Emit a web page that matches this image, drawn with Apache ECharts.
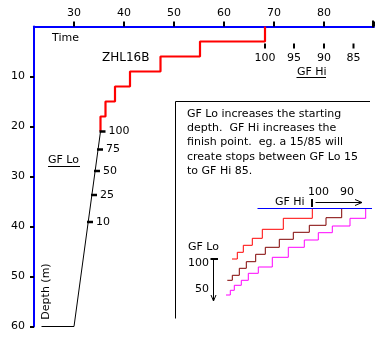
<!DOCTYPE html>
<html><head><meta charset="utf-8">
<script src="https://cdn.jsdelivr.net/npm/echarts@6/dist/echarts.min.js"></script>
<style>html,body{margin:0;padding:0;background:#fff}#c{width:391px;height:345px}</style>
</head><body><div id="c"></div>
<script>
// ---- axes ----
const timeTicks = [30, 40, 50, 60, 70, 80, 90];
const timeLabels = [30, 40, 50, 60, 70, 80];
const depthTicks = [10, 20, 30, 40, 50, 60];
// ---- ZHL16B ascent profile (time, depth) ----
const profileTime = [35.3, 36.3, 38.2, 41.2, 47.3, 55.2, 68.2, 68.2];
const profileDepth = [21, 18, 15, 12, 9, 6, 3, 0];
// ---- bottom + ascent to first stop ----
const descentTime = [23.5, 30, 35.3];
const descentDepth = [60, 60, 21];
// ---- GF Lo marks on the ascent line ----
const gfLoLabels = ['100', '75', '50', '25', '10'];
const gfLoTime = [35.3, 34.8, 34.2, 33.6, 32.8];
const gfLoDepth = [21, 24.6, 28.9, 33.7, 39.1];
// ---- GF Hi marks below the time axis ----
const gfHiLabels = ['100', '95', '90', '85'];
const gfHiTime = [68.2, 74, 80, 85.9];
const gfHiDepth = [3.9, 3.9, 3.9, 3.9];
// ---- inset schematic staircases (schematic units) ----
const insetRedX = [12, 17.3, 23.3, 32.3, 42.3, 63.3, 92.3];
const insetRedY = [50.5, 43.8, 36.8, 29.8, 20.8, 9.8, 0];
const insetMaroonX = [7.3, 12.3, 19.3, 26.3, 35.7, 45.3, 59.3, 73.3, 89.3, 106, 121.7];
const insetMaroonY = [71.8, 66.8, 59.8, 53.2, 45.8, 38.8, 30.8, 23.8, 16.8, 9.2, 0];
const insetMagentaX = [6, 10.3, 14.3, 21.3, 28.3, 38.3, 52.3, 68.3, 84.3, 98.3, 112.3, 130, 145.7];
const insetMagentaY = [86.5, 81.8, 76.8, 71.8, 64.8, 58.5, 48.8, 38.8, 31.5, 24.2, 17.5, 9.8, 0];

const FONT = '"DejaVu Sans"';
const zip = (a, b) => a.map((v, i) => [v, b[i]]);

function txt(text, x, y, opts) {
  opts = opts || {};
  return {
    type: 'text', x: x, y: y, rotation: opts.rotation || 0, z: 10,
    style: {
      text: text, fill: '#000', font: (opts.size || 11) + 'px ' + FONT,
      align: opts.align || 'left', verticalAlign: 'middle',
      textAlign: opts.align || 'left', textVerticalAlign: 'middle',
      lineHeight: opts.lineHeight
    }
  };
}
function ln(x1, y1, x2, y2, color, w) {
  return { type: 'line', z: 10, shape: { x1: x1, y1: y1, x2: x2, y2: y2 },
    style: { stroke: color || '#000', lineWidth: w || 1 } };
}
const markLabel = { show: true, formatter: '{b}', color: '#000', opacity: 1, textBorderWidth: 0,
  fontSize: 11, fontFamily: FONT };

const chart = echarts.init(document.getElementById('c'), null, { renderer: 'canvas' });
const graphics = [
  txt('Time', 52, 38),
  txt('ZHL16B', 102, 58, { size: 12 }),
  txt('GF Hi', 297, 72),
  ln(296.5, 77.5, 326, 77.5),
  txt('GF Lo', 48, 160),
  ln(48, 166.5, 80, 166.5),
  txt('Depth (m)', 46, 291.5, { rotation: Math.PI / 2, align: 'center' }),
  // inset box
  ln(175.5, 101.5, 370, 101.5),
  ln(175.5, 101.5, 175.5, 318.5),
  txt('GF Lo increases the starting\ndepth.  GF Hi increases the\nfinish point.  eg. a 15/85 will\ncreate stops between GF Lo 15\nto GF Hi 85.', 187, 142.6, { lineHeight: 14.3 }),
  // inset GF Hi arrow
  ln(257.5, 208.5, 372, 208.5, '#0000ff', 1),
  txt('GF Hi', 275, 202.5),
  txt('100', 308, 192.5),
  txt('90', 340, 192.5),
  ln(312, 199, 312, 207, '#000', 2),
  ln(315.5, 202.5, 362, 202.5),
  ln(355, 199.5, 362, 202.5),
  ln(355, 205.5, 362, 202.5),
  // inset GF Lo arrow
  txt('GF Lo', 188, 247),
  txt('100', 188, 263),
  txt('50', 195, 289.5),
  ln(210.5, 259, 218, 259, '#000', 2),
  ln(213.5, 259, 213.5, 301),
  ln(211, 295, 213.5, 301),
  ln(216, 295, 213.5, 301)
];
chart.setOption({
  animation: false,
  backgroundColor: '#fff',
  textStyle: { fontFamily: FONT },
  grid: [
    { left: 34, right: 17, top: 26.5, bottom: 18.5 },
    { left: 220, top: 208.5, width: 152, height: 92 }
  ],
  xAxis: [
    {
      type: 'value', gridIndex: 0, position: 'top', min: 22, max: 90,
      axisLine: { show: true, lineStyle: { color: '#0000ff', width: 2 } },
      axisTick: { show: true, customValues: timeTicks, length: 5, lineStyle: { color: '#000', width: 2 } },
      axisLabel: { customValues: timeLabels, color: '#000', fontSize: 11, fontFamily: FONT, margin: 8 },
      splitLine: { show: false }
    },
    { type: 'value', gridIndex: 1, min: 0, max: 152, show: false }
  ],
  yAxis: [
    {
      type: 'value', gridIndex: 0, inverse: true, min: 0, max: 60,
      axisLine: { show: true, lineStyle: { color: '#0000ff', width: 2 } },
      axisTick: { show: true, customValues: depthTicks, length: 4, lineStyle: { color: '#000', width: 2 } },
      axisLabel: { customValues: depthTicks, color: '#000', fontSize: 11, fontFamily: FONT, margin: 9 },
      splitLine: { show: false }
    },
    { type: 'value', gridIndex: 1, inverse: true, min: 0, max: 92, show: false }
  ],
  series: [
    {
      type: 'line', xAxisIndex: 0, yAxisIndex: 0, data: zip(descentTime, descentDepth),
      showSymbol: false, symbol: 'none', lineStyle: { color: '#000', width: 1 }
    },
    {
      type: 'line', xAxisIndex: 0, yAxisIndex: 0, data: zip(profileTime, profileDepth), step: 'start',
      showSymbol: false, symbol: 'none', lineStyle: { color: '#ff0000', width: 2.2 }, z: 3
    },
    {
      type: 'scatter', xAxisIndex: 0, yAxisIndex: 0,
      data: gfLoTime.map((t, i) => ({ name: gfLoLabels[i], value: [t, gfLoDepth[i]] })),
      symbol: 'rect', symbolSize: [6, 2.5], symbolOffset: [2, 0],
      itemStyle: { color: '#000', opacity: 1 },
      label: Object.assign({ position: 'right', distance: 3 }, markLabel),
      z: 4
    },
    {
      type: 'scatter', xAxisIndex: 0, yAxisIndex: 0,
      data: gfHiTime.map((t, i) => ({ name: gfHiLabels[i], value: [t, gfHiDepth[i]] })),
      symbol: 'rect', symbolSize: [2, 5],
      itemStyle: { color: '#000', opacity: 1 },
      label: Object.assign({ position: 'bottom', distance: 4 }, markLabel),
      z: 4
    },
    {
      type: 'line', xAxisIndex: 1, yAxisIndex: 1, data: zip(insetRedX, insetRedY), step: 'end',
      symbol: 'none', clip: false, lineStyle: { color: '#ff0000', width: 1 }
    },
    {
      type: 'line', xAxisIndex: 1, yAxisIndex: 1, data: zip(insetMaroonX, insetMaroonY), step: 'end',
      symbol: 'none', clip: false, lineStyle: { color: '#800000', width: 1 }
    },
    {
      type: 'line', xAxisIndex: 1, yAxisIndex: 1, data: zip(insetMagentaX, insetMagentaY), step: 'end',
      symbol: 'none', clip: false, lineStyle: { color: '#ff00ff', width: 1 }
    }
  ],
  graphic: graphics
});
// end tick of the time axis (at its max), placed through the axis scale
const endPt = chart.convertToPixel({ xAxisIndex: 0, yAxisIndex: 0 }, [timeTicks[timeTicks.length - 1], 0]);
graphics.push(ln(endPt[0] - 1, endPt[1] - 6, endPt[0] - 1, endPt[1] + 1, '#000', 2));
chart.setOption({ graphic: graphics });
</script></body></html>
